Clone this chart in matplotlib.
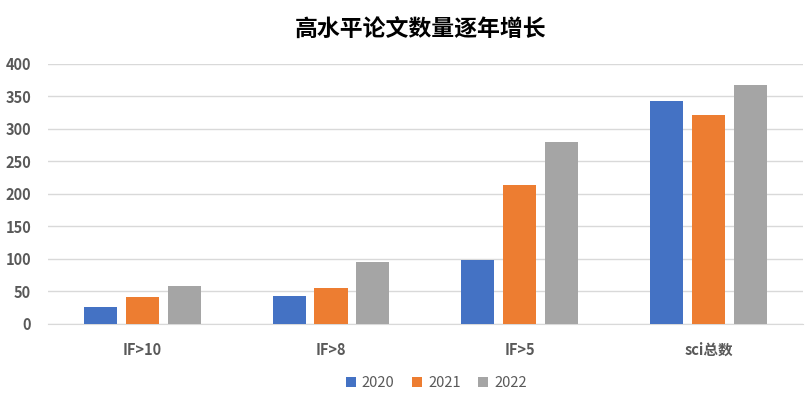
import matplotlib
matplotlib.use("Agg")
import matplotlib.pyplot as plt
import numpy as np

plt.rcParams['font.family'] = ['Noto Sans CJK SC', 'DejaVu Sans']

categories = ["IF>10", "IF>8", "IF>5", "sci总数"]
series_names = ["2020", "2021", "2022"]
v2020 = [26, 43, 98, 343]
v2021 = [41, 55, 213, 322]
v2022 = [58, 95, 280, 368]
yticks = [0, 50, 100, 150, 200, 250, 300, 350, 400]
colors = ["#4472C4", "#ED7D31", "#A5A5A5"]

fig = plt.figure(figsize=(8.08, 3.99), dpi=100)
ax = fig.add_axes([0.059, 0.188, 0.935, 0.652])

x = np.arange(len(categories))
w = 0.175
step = 0.222
for i, (vals, name) in enumerate(zip([v2020, v2021, v2022], series_names)):
    ax.bar(x + (i - 1) * step, vals, width=w, color=colors[i], label=name, zorder=3)

ax.set_xlim(-0.5, len(categories) - 0.5)
ax.set_ylim(0, 400)
ax.set_yticks(yticks)
ax.set_yticklabels([str(t) for t in yticks])
ax.set_xticks(x)
ax.set_xticklabels(categories)
ax.grid(axis='y', color='#D9D9D9', linewidth=1, zorder=0)
for s in ['top', 'right', 'left']:
    ax.spines[s].set_visible(False)
ax.spines['bottom'].set_color('#D9D9D9')
ax.tick_params(axis='both', length=0, colors='#595959', labelsize=10.5)
ax.tick_params(axis='y', pad=12)
ax.tick_params(axis='x', pad=13)
for lbl in ax.get_xticklabels() + ax.get_yticklabels():
    lbl.set_fontweight('bold')

fig.text(0.52, 0.925, "高水平论文数量逐年增长", ha='center', va='center',
         fontsize=16.5, fontweight='bold', color='#000000')

leg = fig.legend(loc='center', bbox_to_anchor=(0.54, 0.04), ncol=3, frameon=False,
                 fontsize=10.5, handlelength=0.7, handleheight=0.7, columnspacing=1.2,
                 handletextpad=0.4)
for t in leg.get_texts():
    t.set_color('#595959')

fig.savefig("out.png", dpi=100)
